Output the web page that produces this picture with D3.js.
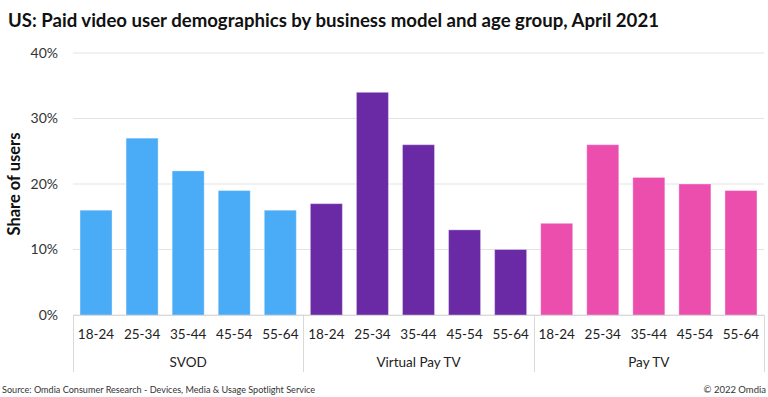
<!DOCTYPE html>
<html>
<head>
<meta charset="utf-8">
<script src="https://cdn.jsdelivr.net/npm/d3@7"></script>
<style>
  body { margin: 0; background: #fff; }
  svg { font-family: Lato, "Open Sans", sans-serif; }
</style>
</head>
<body>
<div id="chart"></div>
<script>
const width = 768;
const height = 397;

// data
const groups = ["SVOD", "Virtual Pay TV", "Pay TV"];
const ages = ["18-24", "25-34", "35-44", "45-54", "55-64"];
const svodValues = [16, 27, 22, 19, 16];
const virtualValues = [17, 34, 26, 13, 10];
const payTvValues = [14, 26, 21, 20, 19];
const yTicks = [0, 10, 20, 30, 40];
const groupColors = ["#4aabf6", "#6a2aa6", "#eb4ead"];

const seriesValues = [svodValues, virtualValues, payTvValues];

// flatten into one row per bar
const rows = [];
groups.forEach((g, gi) => {
  ages.forEach((a, ai) => {
    rows.push({ key: g + "|" + a, group: g, gi: gi, age: a, value: seriesValues[gi][ai] });
  });
});

const margin = { left: 73, right: 4, top: 53, bottom: 82 };
const x0 = margin.left;
const x1 = width - margin.right;
const yBase = height - margin.bottom;

const x = d3.scaleBand()
  .domain(rows.map((d) => d.key))
  .range([x0, x1])
  .paddingInner(0.305)
  .paddingOuter(0.1525);

const y = d3.scaleLinear().domain([0, 40]).range([yBase, margin.top]);

const svg = d3.select("#chart")
  .append("svg")
  .attr("width", width)
  .attr("height", height)
  .attr("viewBox", `0 0 ${width} ${height}`);

// title
svg.append("text")
  .attr("x", 8)
  .attr("y", 27)
  .attr("font-size", 18.6)
  .attr("font-weight", "bold")
  .attr("fill", "#111")
  .text("US: Paid video user demographics by business model and age group, April 2021");

// gridlines
svg.append("g")
  .selectAll("line")
  .data(yTicks)
  .enter()
  .append("line")
  .attr("x1", x0)
  .attr("x2", x1)
  .attr("y1", (d) => y(d))
  .attr("y2", (d) => y(d))
  .attr("stroke", "#e3e3e3")
  .attr("stroke-width", 1);

// y axis labels
const yAxis = d3.axisLeft(y)
  .tickValues(yTicks)
  .tickSize(0)
  .tickPadding(15)
  .tickFormat((d) => d + "%");
svg.append("g")
  .attr("transform", `translate(${x0},0)`)
  .call(yAxis)
  .call((g) => g.select(".domain").remove())
  .selectAll("text")
  .attr("font-size", 14)
  .attr("font-family", "Lato, 'Open Sans', sans-serif")
  .attr("fill", "#333");

svg.append("text")
  .attr("transform", `translate(20,${(margin.top + yBase) / 2}) rotate(-90)`)
  .attr("text-anchor", "middle")
  .attr("font-size", 16.5)
  .attr("font-weight", "bold")
  .attr("fill", "#111")
  .text("Share of users");

// bars
svg.append("g")
  .selectAll("rect")
  .data(rows)
  .enter()
  .append("rect")
  .attr("x", (d) => x(d.key))
  .attr("y", (d) => y(d.value))
  .attr("width", x.bandwidth())
  .attr("height", (d) => yBase - y(d.value))
  .attr("fill", (d) => groupColors[d.gi])
  .attr("stroke", "rgba(255,255,255,0.35)")
  .attr("stroke-width", 1);

// x axis: age labels
const xAxis = d3.axisBottom(x)
  .tickSize(0)
  .tickPadding(14)
  .tickFormat((k) => k.split("|")[1]);
svg.append("g")
  .attr("transform", `translate(0,${yBase})`)
  .call(xAxis)
  .call((g) => g.select(".domain").remove())
  .selectAll("text")
  .attr("font-size", 13.5)
  .attr("font-family", "Lato, 'Open Sans', sans-serif")
  .attr("fill", "#222");

// baseline
svg.append("line")
  .attr("x1", x0)
  .attr("x2", x1)
  .attr("y1", yBase + 0.5)
  .attr("y2", yBase + 0.5)
  .attr("stroke", "#d9d9d9");

// group separators
const step = x.step();
const groupEdges = [0, 5, 10, 15].map((i) => x0 + i * step);
svg.append("g")
  .selectAll("line")
  .data(groupEdges)
  .enter()
  .append("line")
  .attr("x1", (d) => Math.round(d) + 0.5)
  .attr("x2", (d) => Math.round(d) + 0.5)
  .attr("y1", yBase)
  .attr("y2", yBase + 57)
  .attr("stroke", "#d9d9d9");

// group labels
svg.append("g")
  .selectAll("text")
  .data(groups)
  .enter()
  .append("text")
  .attr("x", (d, i) => (groupEdges[i] + groupEdges[i + 1]) / 2)
  .attr("y", yBase + 52)
  .attr("text-anchor", "middle")
  .attr("font-size", 13.5)
  .attr("fill", "#222")
  .text((d) => d);

// footer
svg.append("text")
  .attr("x", 2)
  .attr("y", 393)
  .attr("font-size", 9.1)
  .attr("fill", "#333")
  .text("Source: Omdia Consumer Research - Devices, Media & Usage Spotlight Service");

svg.append("text")
  .attr("x", 766)
  .attr("y", 393)
  .attr("text-anchor", "end")
  .attr("font-size", 9.5)
  .attr("fill", "#333")
  .text("© 2022 Omdia");
</script>
</body>
</html>
